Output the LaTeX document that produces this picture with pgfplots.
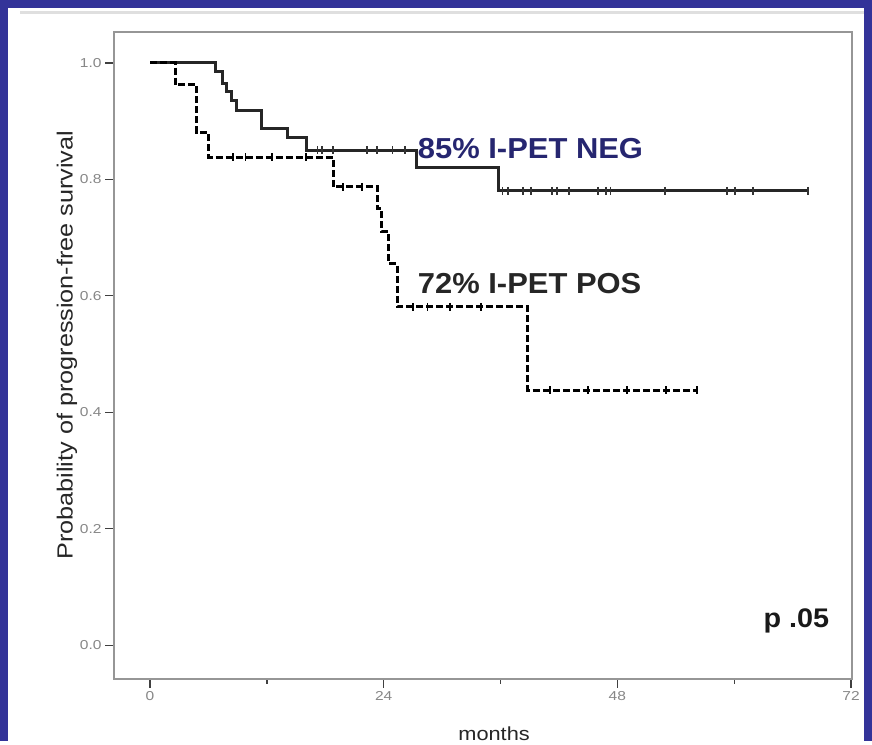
\documentclass[border=0pt]{standalone}
\usepackage{fontspec}
\setmainfont{Liberation Sans}
\newfontfamily\tickfont[FakeStretch=1.2]{Liberation Sans}
\newfontfamily\labfont[FakeStretch=1.15]{Liberation Sans}
\newfontfamily\bigfont[FakeStretch=1.07]{Liberation Sans}
\usepackage{pgfplots}
\pgfplotsset{compat=1.18}
\definecolor{navyframe}{RGB}{51,51,153}
\definecolor{labelblue}{RGB}{38,38,112}
\definecolor{axisgray}{RGB}{150,150,150}
\definecolor{tickgray}{RGB}{135,135,135}
\begin{document}
\begin{tikzpicture}[x=1bp,y=1bp]
\fill[navyframe] (0,0) rectangle (872,741);
\fill[white] (8,0) rectangle (864,733);
\draw[gray!25, line width=3bp] (20,728) -- (864,728);
\begin{axis}[
  at={(114bp,62bp)}, anchor=south west,
  width=738bp, height=647bp, scale only axis,
  xmin=-3.7, xmax=72.1, ymin=-0.058, ymax=1.053,
  axis line style={axisgray, line width=2.5bp},
  xtick={0,24,48,72}, xticklabels={0,24,48,72},
  minor xtick={12,36,60},
  ytick={0,0.2,0.4,0.6,0.8,1.0},
  yticklabels={0.0,0.2,0.4,0.6,0.8,1.0},
  xtick pos=bottom, ytick pos=left,
  tick align=outside,
  major tick length=9bp, minor tick length=5bp,
  tick style={black!75, line width=1.4bp},
  xticklabel style={font=\tickfont\fontsize{13}{13}\selectfont, text=tickgray},
  yticklabel style={font=\tickfont\fontsize{13}{13}\selectfont, text=tickgray},
  xlabel={months},
  ylabel={Probability of progression-free survival},
  xlabel style={font=\labfont\fontsize{19}{19}\selectfont, text=black!85, at={(axis description cs:0.515,-0.085)}, anchor=center},
  ylabel style={font=\labfont\fontsize{22}{22}\selectfont, text=black!85, at={(axis description cs:-0.0637,0.516)}, anchor=center},
  clip=false,
]
% I-PET NEG (solid)
\addplot[const plot, draw=black!85, line width=3bp] coordinates {
 (0,1.0) (6.7,0.985) (7.4,0.965) (7.9,0.95) (8.4,0.935) (8.9,0.919)
 (11.5,0.888) (14.1,0.871) (16.1,0.85) (27.4,0.821) (35.8,0.78) (67.6,0.78)
};
\addplot[only marks, mark=|, mark size=4bp, mark options={solid, line width=1.8bp, draw=black!80}] coordinates {
 (17.2,0.85) (17.7,0.85) (18.8,0.85) (22.3,0.85) (23.3,0.85) (24.9,0.85) (26.2,0.85)
 (36.2,0.78) (36.8,0.78) (38.3,0.78) (39.1,0.78) (41.3,0.78) (41.8,0.78) (43.0,0.78)
 (46.0,0.78) (46.8,0.78) (47.3,0.78) (52.9,0.78) (59.3,0.78) (60.1,0.78) (61.9,0.78) (67.6,0.78)
};
% I-PET POS (dashed)
\addplot[const plot, draw=black, line width=3bp, dash pattern=on 7bp off 3bp] coordinates {
 (0,1.0) (2.6,0.962) (4.8,0.88) (6.0,0.838) (18.8,0.787) (23.4,0.75) (23.8,0.71)
 (24.5,0.655) (25.4,0.581) (38.8,0.438) (56.2,0.438)
};
\addplot[only marks, mark=|, mark size=4bp, mark options={solid, line width=1.8bp, draw=black}] coordinates {
 (8.5,0.838) (9.8,0.838) (12.5,0.838) (16.0,0.838)
 (19.8,0.787) (21.8,0.787)
 (27.0,0.581) (28.5,0.581) (30.8,0.581) (34.0,0.581)
 (41.1,0.438) (45.0,0.438) (49.0,0.438) (53.0,0.438) (56.2,0.438)
};
\node[anchor=base west, inner sep=0pt, font=\bigfont\bfseries\fontsize{29}{29}\selectfont, text=labelblue] at (axis cs:27.5,0.836) {85\% I-PET NEG};
\node[anchor=base west, inner sep=0pt, font=\bigfont\bfseries\fontsize{29}{29}\selectfont, text=black!85] at (axis cs:27.5,0.604) {72\% I-PET POS};
\node[anchor=base west, inner sep=0pt, font=\bigfont\bfseries\fontsize{27}{27}\selectfont, text=black!90] at (axis cs:63.0,0.031) {p .05};
\end{axis}
\end{tikzpicture}
\end{document}
